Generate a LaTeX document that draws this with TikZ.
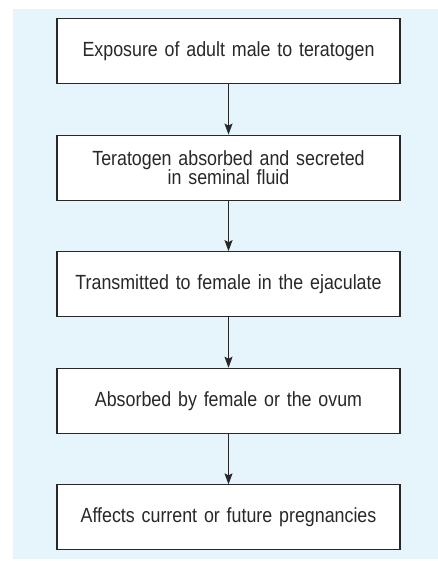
\documentclass[tikz,border=0pt]{standalone}
\usepackage{fontspec}
\setmainfont{Liberation Sans}[FakeStretch=0.87]
\usetikzlibrary{positioning,arrows.meta}
\definecolor{panelblue}{RGB}{230,245,252}
\definecolor{linegray}{RGB}{40,40,40}

\begin{document}
\begin{tikzpicture}[x=1pt,y=1pt,
    >={Stealth[length=11pt,width=8pt,inset=2pt]},node distance=50.5pt,
    stage/.style={rectangle,draw=linegray,line width=1.1pt,fill=white,minimum width=343pt,minimum height=65pt,text width=335pt,align=center,text=linegray,font=\fontsize{20.5}{19.5}\selectfont}]
    \useasboundingbox (0,0) rectangle (438,-561);
    \fill[panelblue] (13,-9) rectangle (438,-559);

    \node[stage] (S1) at (228.5,-51) {Exposure of adult male to teratogen};
    \node[stage] (S2) [below=of S1] {Teratogen absorbed and secreted\\in seminal fluid};
    \node[stage] (S3) [below=of S2] {Transmitted to female in the ejaculate};
    \node[stage] (S4) [below=of S3] {Absorbed by female or the ovum};
    \node[stage] (S5) [below=of S4] {Affects current or future pregnancies};

    \draw[->,linegray,line width=1pt] (S1) -- (S2);
    \draw[->,linegray,line width=1pt] (S2) -- (S3);
    \draw[->,linegray,line width=1pt] (S3) -- (S4);
    \draw[->,linegray,line width=1pt] (S4) -- (S5);
\end{tikzpicture}
\end{document}
